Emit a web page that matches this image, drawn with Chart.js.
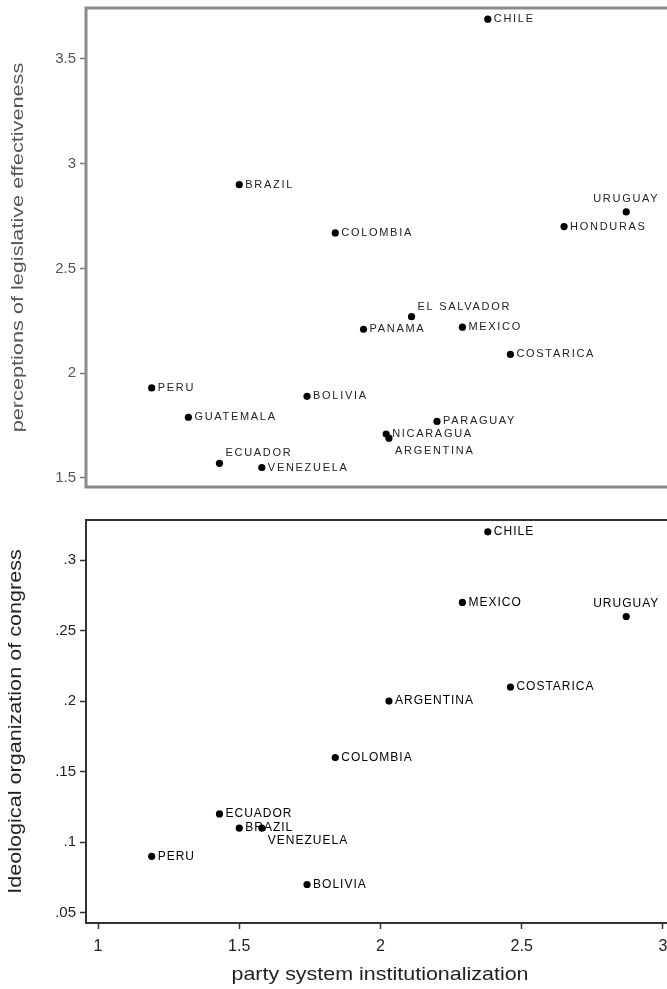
<!DOCTYPE html>
<html>
<head>
<meta charset="utf-8">
<script src="https://cdn.jsdelivr.net/npm/chart.js@4/dist/chart.umd.min.js"></script>
<style>
  html, body { margin:0; padding:0; background:#fff; overflow:hidden; width:667px; height:989px; }
  #wrapTop { position:absolute; left:0; top:0; width:680px; height:500px; }
  #wrapBot { position:absolute; left:0; top:500px; width:680px; height:489px; }
</style>
</head>
<body>
<div id="wrapTop"><canvas id="top"></canvas></div>
<div id="wrapBot"><canvas id="bot"></canvas></div>
<script>
// ---- data ----
const countries = ["CHILE","BRAZIL","COLOMBIA","URUGUAY","HONDURAS","EL SALVADOR","PANAMA","MEXICO","COSTARICA","BOLIVIA","PARAGUAY","NICARAGUA","ARGENTINA","PERU","GUATEMALA","ECUADOR","VENEZUELA"];
const institutionalization = [2.38,1.50,1.84,2.87,2.65,2.11,1.94,2.29,2.46,1.74,2.20,2.02,2.03,1.19,1.32,1.43,1.58];
const effectiveness = [3.69,2.90,2.67,2.77,2.70,2.27,2.21,2.22,2.09,1.89,1.77,1.71,1.69,1.93,1.79,1.57,1.55];
const ideological = [0.32,0.11,0.16,0.26,null,null,null,0.27,0.21,0.07,null,null,0.20,0.09,null,0.12,0.11];
const xTicks = [1,1.5,2,2.5,3];
const topYTicks = [1.5,2,2.5,3,3.5];
const botYTicks = [0.05,0.1,0.15,0.2,0.25,0.3];
const xTitle = 'party system institutionalization';
const topYTitle = 'perceptions of legislative effectiveness';
const botYTitle = 'Ideological organization of congress';

// ---- label placement (style only) ----
const topLabelPlace = { "URUGUAY":"above", "EL SALVADOR":"upright", "ECUADOR":"upright", "ARGENTINA":"downright" };
const botLabelPlace = { "URUGUAY":"above", "VENEZUELA":"downright" };

function buildPoints(ys){
  const pts = [];
  countries.forEach((c,i)=>{ if (ys[i] !== null) pts.push({x: institutionalization[i], y: ys[i], name: c}); });
  return pts;
}

const framePlugin = {
  id:'frame',
  afterDraw(chart, args, opts){
    const a = chart.chartArea, ctx = chart.ctx;
    ctx.save();
    ctx.strokeStyle = opts.color; ctx.lineWidth = opts.width;
    ctx.strokeRect(a.left, a.top, a.right - a.left, a.bottom - a.top);
    ctx.restore();
  }
};
const titlesPlugin = {
  id:'titles',
  afterDraw(chart, args, opts){
    const a = chart.chartArea, ctx = chart.ctx;
    ctx.save();
    ctx.fillStyle = opts.color; ctx.textAlign = 'center'; ctx.textBaseline = 'middle';
    if (opts.y){
      ctx.save();
      ctx.font = opts.y.size + 'px "Liberation Sans"';
      ctx.translate(opts.y.cx, (a.top + a.bottom)/2);
      ctx.rotate(-Math.PI/2);
      ctx.scale(opts.y.stretch, 1);
      ctx.fillText(opts.y.text, 0, 0);
      ctx.restore();
    }
    if (opts.x){
      ctx.save();
      ctx.font = opts.x.size + 'px "Liberation Sans"';
      ctx.translate((a.left + a.right)/2 + opts.x.dx, opts.x.cy);
      ctx.scale(opts.x.stretch, 1);
      ctx.fillText(opts.x.text, 0, 0);
      ctx.restore();
    }
    ctx.restore();
  }
};
const labelPlugin = {
  id:'ptlabels',
  afterDatasetsDraw(chart, args, opts){
    const ctx = chart.ctx, meta = chart.getDatasetMeta(0), data = chart.data.datasets[0].data;
    ctx.save();
    ctx.font = opts.font; ctx.fillStyle = opts.color;
    if ('letterSpacing' in ctx) ctx.letterSpacing = opts.spacing;
    ctx.textBaseline = 'middle';
    meta.data.forEach((el,i)=>{
      const name = data[i].name, place = opts.place[name] || 'right';
      let x = el.x, y = el.y;
      if (place === 'right'){ ctx.textAlign='left'; x += 6; }
      else if (place === 'above'){ ctx.textAlign='center'; y -= 13; }
      else if (place === 'upright'){ ctx.textAlign='left'; x += 6; y -= 10; }
      else if (place === 'downright'){ ctx.textAlign='left'; x += 6; y += 13; }
      ctx.fillText(name, x, y);
    });
    ctx.restore();
  }
};

function makeChart(id, ys, yMin, yMax, yTicks, fmt, cfg){
  return new Chart(document.getElementById(id), {
    type:'scatter',
    data:{ datasets:[{ data: buildPoints(ys), pointRadius:3.6, pointHoverRadius:3.6,
      backgroundColor:'#000', borderColor:'#000', borderWidth:0 }] },
    options:{
      responsive:true, maintainAspectRatio:false, animation:false,
      layout:{ padding: cfg.padding },
      plugins:{ legend:{display:false}, tooltip:{enabled:false},
        frame:{ color: cfg.frameColor, width: cfg.frameWidth },
        titles: cfg.titles,
        ptlabels:{ font: cfg.labelFont, color: cfg.labelColor, spacing: cfg.labelSpacing, place: cfg.place } },
      scales:{
        x:{ type:'linear', min:0.9575, max:3.032, display: cfg.showX,
          afterBuildTicks: s => { s.ticks = xTicks.map(v=>({value:v})); },
          afterFit: s => { if (cfg.showX) s.height = 66; s.paddingLeft = 0; s.paddingRight = 0; },
          grid:{ drawOnChartArea:false, drawTicks:true, tickLength:6, color:cfg.tickColor, tickWidth:1.5 },
          border:{ display:false },
          ticks:{ color:cfg.textColor, font:{family:'Liberation Sans', size:16}, padding:8,
            callback: v => String(v), maxRotation:0 },
          title:{ display:false }
        },
        y:{ type:'linear', min:yMin, max:yMax,
          afterBuildTicks: s => { s.ticks = yTicks.map(v=>({value:v})); },
          afterFit: s => { s.width = 86; s.paddingTop = 0; s.paddingBottom = 0; },
          grid:{ drawOnChartArea:false, drawTicks:true, tickLength:6, color:cfg.tickColor, tickWidth:1.5 },
          border:{ display:false },
          ticks:{ color:cfg.textColor, font:{family:'Liberation Sans', size:cfg.yTickSize}, padding:4, callback: v => fmt(v) },
          title:{ display:false }
        }
      }
    },
    plugins:[framePlugin, labelPlugin, titlesPlugin]
  });
}

makeChart('top', effectiveness, 1.457, 3.7434, topYTicks,
  v => String(v),
  { padding:{top:8, bottom:13, left:0, right:8}, showX:false, frameColor:'#8a8a8a', frameWidth:3,
    tickColor:'#777', textColor:'#555', yTickSize:15,
    titles:{ color:'#555', y:{ text: topYTitle, size:17, stretch:1.275, cx:18 } },
    labelFont:'11px "Liberation Sans"', labelColor:'#222', labelSpacing:'1.7px', place: topLabelPlace });

makeChart('bot', ideological, 0.0427, 0.3284, botYTicks,
  v => String(v).replace(/^0\./,'.'),
  { padding:{top:20, bottom:0, left:0, right:8}, showX:true, frameColor:'#333', frameWidth:2,
    tickColor:'#333', textColor:'#222', yTickSize:15,
    titles:{ color:'#222', y:{ text: botYTitle, size:18, stretch:1.2, cx:16 },
             x:{ text: xTitle, size:19, stretch:1.13, cy:475, dx:1 } },
    labelFont:'12px "Liberation Sans"', labelColor:'#000', labelSpacing:'1px', place: botLabelPlace });
</script>
</body>
</html>
